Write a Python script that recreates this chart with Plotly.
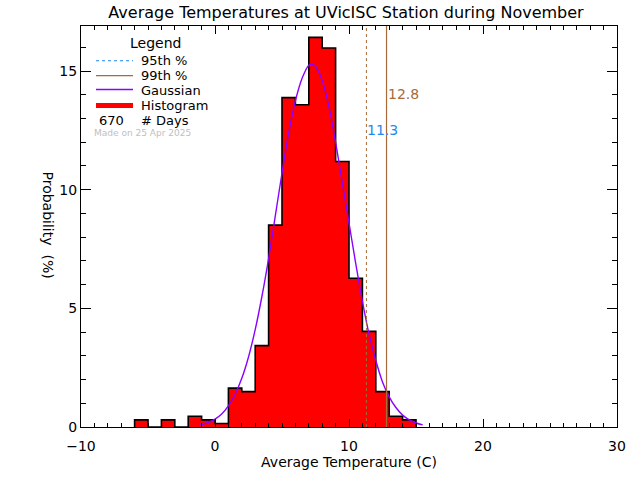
import plotly.graph_objects as go

# ---- data ----
bin_left = [-6, -5, -4, -3, -2, -1, 0, 1, 2, 3, 4, 5, 6, 7, 8, 9, 10, 11, 12, 13, 14]
prob_pct = [0.30, 0.0, 0.30, 0.0, 0.45, 0.30, 0.15, 1.64, 1.49, 3.43, 8.51,
            13.88, 13.58, 16.42, 15.97, 11.19, 6.27, 4.03, 1.49, 0.45, 0.30]
bin_width = 1

gauss_x = [-1.1, -0.5, 0.0, 0.5, 1.0, 1.5, 2.0, 2.5, 3.0, 3.5, 4.0, 4.5, 5.0, 5.5,
           6.0, 6.5, 7.0, 7.2, 7.5, 8.0, 8.5, 9.0, 9.5, 10.0, 10.5, 11.0, 11.5,
           12.0, 12.5, 13.0, 13.5, 14.0, 14.5, 15.0, 15.5]
gauss_y = [0.09, 0.19, 0.33, 0.55, 0.89, 1.38, 2.05, 2.95, 4.1, 5.5, 7.1, 8.9,
           10.7, 12.4, 13.75, 14.7, 15.25, 15.3, 15.2, 14.6, 13.5, 12.0, 10.3,
           8.6, 6.9, 5.3, 3.9, 2.8, 1.9, 1.27, 0.82, 0.50, 0.30, 0.17, 0.09]

p95 = 11.3
p99 = 12.8
n_days = 670
made_on = "Made on 25 Apr 2025"

x_ticks = [-10, 0, 10, 20, 30]
y_ticks = [0, 5, 10, 15]

# ---- styling ----
FONT = "DejaVu Sans"
RED = "#FF0000"
PURPLE = "#8C00FF"
BROWN = "#A86A38"
BLUE = "#1E88F0"

W, H = 640, 480
L, R, T, B = 81, 23, 26, 50
PW, PH = W - L - R, H - T - B


def px(xp):
    return (xp - L) / PW


def py(yp):
    return (H - B - yp) / PH


centers = [b + bin_width / 2 for b in bin_left]
edges_right = bin_left[-1] + bin_width
step_x = [bin_left[0]] + bin_left + [edges_right]
step_y = [0] + prob_pct + [0]

fig = go.Figure()
fig.add_trace(go.Bar(x=centers, y=prob_pct, width=bin_width,
                     marker=dict(color=RED, line=dict(width=0)),
                     hoverinfo="skip", showlegend=False))
fig.add_trace(go.Scatter(x=step_x, y=step_y, mode="lines",
                         line=dict(color="black", width=1.6, shape="hv"),
                         showlegend=False, hoverinfo="skip"))
fig.add_trace(go.Scatter(x=gauss_x, y=gauss_y, mode="lines",
                         line=dict(color=PURPLE, width=1.4, shape="spline"),
                         showlegend=False, hoverinfo="skip"))

shapes = [
    dict(type="line", xref="x", yref="paper", x0=p95, x1=p95, y0=0, y1=1,
         line=dict(color=BROWN, width=1, dash="dot")),
    dict(type="line", xref="x", yref="paper", x0=p99, x1=p99, y0=0, y1=1,
         line=dict(color=BROWN, width=1.2)),
    # legend samples
    dict(type="line", xref="paper", yref="paper", x0=px(96), x1=px(133), y0=py(61), y1=py(61),
         line=dict(color=BLUE, width=1, dash="dot")),
    dict(type="line", xref="paper", yref="paper", x0=px(96), x1=px(133), y0=py(76), y1=py(76),
         line=dict(color=BROWN, width=1.2)),
    dict(type="line", xref="paper", yref="paper", x0=px(96), x1=px(133), y0=py(90), y1=py(90),
         line=dict(color=PURPLE, width=1.4)),
    dict(type="line", xref="paper", yref="paper", x0=px(96), x1=px(133), y0=py(106), y1=py(106),
         line=dict(color=RED, width=5)),
]

ann = []


def text(x, y, s, size=13, color="black", xanchor="left", angle=0):
    ann.append(dict(xref="paper", yref="paper", x=px(x), y=py(y), text=s, showarrow=False,
                    xanchor=xanchor, yanchor="middle", textangle=angle,
                    font=dict(family=FONT, size=size, color=color)))


text(155, 43, "Legend", size=14, xanchor="center")
text(139, 61, "95th %")
text(139, 76, "99th %")
text(139, 91, "Gaussian")
text(139, 106, "Histogram")
text(97, 121, str(n_days))
text(139, 121, "# Days")
text(92, 134, made_on, size=9, color="#C0C0C0")

ann.append(dict(xref="x", yref="paper", x=p99, y=py(95), text=f"{p99:.1f}", showarrow=False,
                xanchor="left", yanchor="middle", xshift=-1,
                font=dict(family=FONT, size=14, color=BROWN)))
ann.append(dict(xref="x", yref="paper", x=p95, y=py(131), text=f"{p95:.1f}", showarrow=False,
                xanchor="left", yanchor="middle", xshift=-1,
                font=dict(family=FONT, size=14, color=BLUE)))
# y-axis title (reads top to bottom)
ann.append(dict(xref="paper", yref="paper", x=px(48), y=py(226), text="Probability  (%)",
                showarrow=False, xanchor="center", yanchor="middle", textangle=90,
                font=dict(family=FONT, size=14, color="black")))

fig.update_layout(
    width=W, height=H,
    margin=dict(l=L, r=R, t=T, b=B, pad=0),
    paper_bgcolor="white", plot_bgcolor="white",
    font=dict(family=FONT, size=14, color="black"),
    title=dict(text="Average Temperatures at UVicISC Station during November",
               x=346 / W, xref="container", xanchor="center",
               y=1 - 12.5 / H, yref="container", yanchor="middle",
               font=dict(family=FONT, size=16, color="black")),
    bargap=0,
    shapes=shapes,
    annotations=ann,
    showlegend=False,
)
fig.update_xaxes(range=[-10, 30], tickvals=x_ticks, ticks="inside", ticklen=8,
                 tickcolor="black", showline=True, linecolor="black", linewidth=1,
                 mirror="ticks", showgrid=False, zeroline=False,
                 minor=dict(dtick=1, ticks="inside", ticklen=4, tickcolor="black", showgrid=False),
                 title=dict(text="Average Temperature (C)", standoff=4,
                            font=dict(family=FONT, size=14)),
                 ticklabelstandoff=6)
fig.update_yaxes(range=[0, 16.9], tickvals=y_ticks, ticks="inside", ticklen=10,
                 tickcolor="black", showline=True, linecolor="black", linewidth=1,
                 mirror="ticks", showgrid=False, zeroline=False,
                 minor=dict(dtick=1, ticks="inside", ticklen=5, tickcolor="black", showgrid=False),
                 ticklabelstandoff=0)

# remove the default page margin so the 640x480 figure fills the window exactly
fig.write_html("out.html",
               config={"displayModeBar": False},
               post_script="document.body.style.margin='0';"
                           "document.body.style.overflow='hidden';")
